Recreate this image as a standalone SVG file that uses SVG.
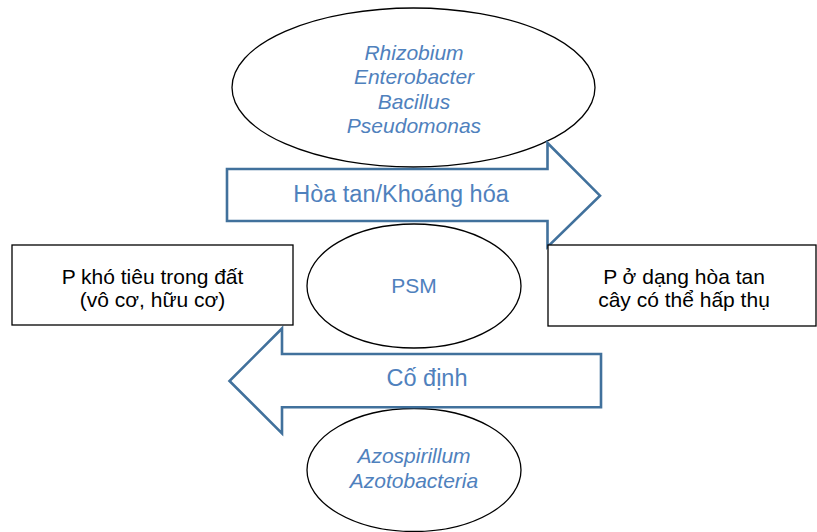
<svg xmlns="http://www.w3.org/2000/svg" width="817" height="532" viewBox="0 0 817 532">
<style>
.ell{fill:#ffffff;stroke:#000000;stroke-width:1.3}
.box{fill:#ffffff;stroke:#000000;stroke-width:1.3}
.arr{fill:#ffffff;stroke:#41719C;stroke-width:2.6;stroke-linejoin:miter}
.bt{font-family:"Liberation Sans",Arial,sans-serif;font-size:21px;fill:#4F81BD;text-anchor:middle}
.it{font-style:italic}
.kt{font-family:"Liberation Sans",Arial,sans-serif;font-size:21px;fill:#000000;text-anchor:middle}
.at{font-family:"Liberation Sans",Arial,sans-serif;font-size:23.5px;fill:#4F81BD;text-anchor:middle}
</style>
<rect width="817" height="532" fill="#ffffff"/>
<g id="top-microbes">
<ellipse class="ell" cx="413.5" cy="87.5" rx="181.5" ry="79.5"/>
<text class="bt it" x="414" y="60">Rhizobium</text>
<text class="bt it" x="414" y="84.3">Enterobacter</text>
<text class="bt it" x="414" y="108.5">Bacillus</text>
<text class="bt it" x="414" y="132.7">Pseudomonas</text>
</g>
<g id="psm">
<ellipse class="ell" cx="414" cy="286" rx="107" ry="62"/>
<text class="bt" x="414" y="293">PSM</text>
</g>
<g id="bottom-microbes">
<ellipse class="ell" cx="414" cy="470" rx="107" ry="61.5"/>
<text class="bt it" x="414" y="463">Azospirillum</text>
<text class="bt it" x="414" y="488">Azotobacteria</text>
</g>
<g id="connectors">
<g id="arrow-dissolve">
<polygon class="arr" points="227,169 547.5,169 547.5,143 600,195.7 547.5,247 547.5,221 227,221"/>
<text class="at" x="401" y="201.5">Hòa tan/Khoáng hóa</text>
</g>
<g id="arrow-fix">
<polygon class="arr" points="601,354 282,354 282,328.5 229.5,381 282,433.3 282,407.3 601,407.3"/>
<text class="at" x="427" y="385.5">Cố định</text>
</g>
</g>
<g id="insoluble-p">
<rect class="box" x="12" y="245" width="281" height="80"/>
<text class="kt" x="152.5" y="284">P khó tiêu trong đất</text>
<text class="kt" x="152.5" y="307">(vô cơ, hữu cơ)</text>
</g>
<g id="soluble-p">
<rect class="box" x="548" y="245" width="268" height="81"/>
<text class="kt" x="684" y="284">P ở dạng hòa tan</text>
<text class="kt" x="684" y="307">cây có thể hấp thụ</text>
</g>
</svg>
